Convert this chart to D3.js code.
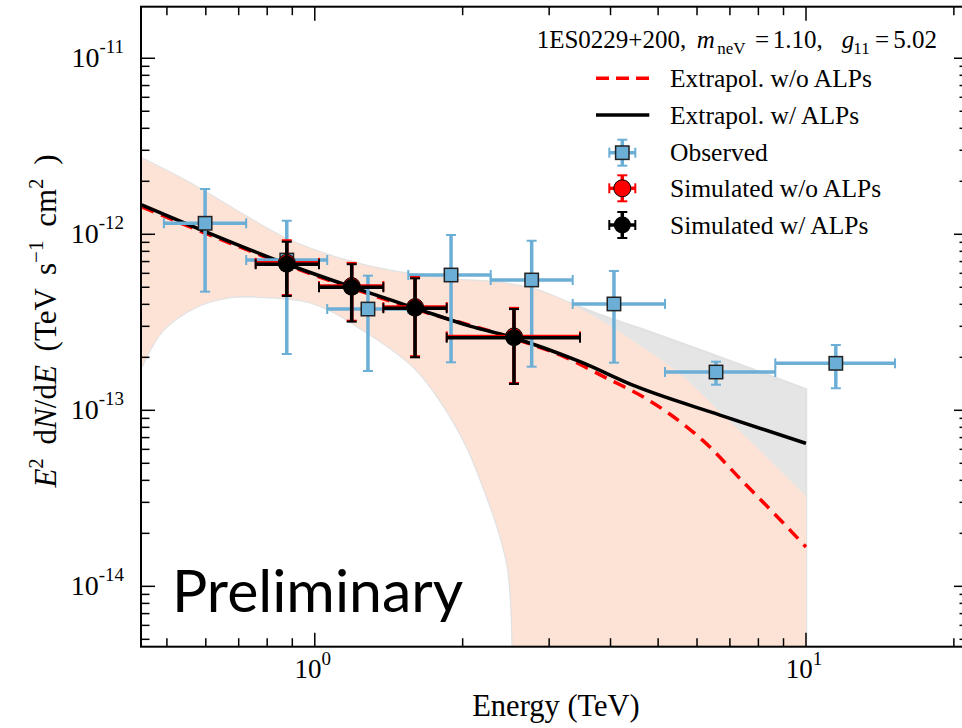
<!DOCTYPE html>
<html><head><meta charset="utf-8">
<script src="https://cdn.jsdelivr.net/npm/d3@7"></script>
<style>
body{margin:0;background:#fff}
svg{display:block}
text{font-family:"Liberation Serif","Times New Roman",serif;fill:#000}
</style>
</head><body>
<svg id="c" width="962" height="728"></svg>
<script>
// ---------------- data ----------------
// Observed spectrum (TeV, TeV s^-1 cm^-2)
const obsE    = [0.598, 0.877, 1.283, 1.894, 2.764, 4.065, 6.559, 11.50];
const obsELo  = [0.493, 0.725, 1.060, 1.550, 2.281, 3.350, 5.164, 8.66];
const obsEHi  = [0.725, 1.060, 1.550, 2.281, 3.350, 5.164, 8.66, 15.18];
const obsF    = [1.155e-12, 7.14e-13, 3.76e-13, 5.87e-13, 5.50e-13, 4.02e-13, 1.650e-13, 1.849e-13];
const obsFLo  = [4.72e-13, 2.089e-13, 1.672e-13, 1.874e-13, 1.769e-13, 1.865e-13, 1.398e-13, 1.334e-13];
const obsFHi  = [1.808e-12, 1.195e-12, 5.82e-13, 9.91e-13, 9.20e-13, 6.19e-13, 1.889e-13, 2.35e-13];

// Simulated points
const simE    = [0.877, 1.189, 1.600, 2.544];
const simELo  = [0.758, 1.020, 1.379, 1.856];
const simEHi  = [1.020, 1.379, 1.856, 3.467];
const simNoF   = [6.88e-13, 5.08e-13, 3.86e-13, 2.63e-13];
const simNoFLo = [4.52e-13, 3.23e-13, 2.03e-13, 1.43e-13];
const simNoFHi = [9.25e-13, 6.88e-13, 5.72e-13, 3.82e-13];
const simAlpF   = [6.76e-13, 5.00e-13, 3.80e-13, 2.585e-13];
const simAlpFLo = [4.46e-13, 3.19e-13, 2.00e-13, 1.411e-13];
const simAlpFHi = [9.08e-13, 6.76e-13, 5.62e-13, 3.76e-13];

// Extrapolated model curves
const alpE = [0.4442, 0.8766, 1.189, 1.600, 2.070, 2.536, 3.467, 4.522, 6.682, 10.0];
const alpF = [1.468e-12, 6.78e-13, 5.02e-13, 3.81e-13, 3.01e-13, 2.585e-13, 1.889e-13, 1.361e-13, 9.40e-14, 6.49e-14];
const noAlpE = [0.4442, 0.8766, 1.600, 2.536, 3.157, 3.990, 4.522, 5.286, 6.180, 7.455, 8.990, 10.0];
const noAlpF = [1.43e-12, 6.69e-13, 3.76e-13, 2.56e-13, 2.062e-13, 1.49e-13, 1.25e-13, 9.5e-14, 6.7e-14, 3.91e-14, 2.29e-14, 1.672e-14];

// Confidence bands
const noAlpBandUpE = [0.4442, 0.575, 0.705, 0.8766, 1.049, 1.254, 1.885, 2.420, 2.830, 3.308, 3.867, 4.522, 5.627, 6.610, 8.058, 10.0];
const noAlpBandUpF = [2.70e-12, 1.857e-12, 1.321e-12, 9.40e-13, 7.73e-13, 6.69e-13, 5.55e-13, 5.27e-13, 4.83e-13, 4.06e-13, 3.19e-13, 2.40e-13, 1.552e-13, 1.008e-13, 5.91e-14, 3.26e-14];
const alpBandUpE = [0.4442, 0.575, 0.705, 0.8766, 1.049, 1.254, 1.885, 2.420, 2.830, 3.308, 3.867, 4.522, 6.682, 10.0];
const alpBandUpF = [2.70e-12, 1.857e-12, 1.321e-12, 9.40e-13, 7.73e-13, 6.69e-13, 5.55e-13, 5.27e-13, 4.83e-13, 4.06e-13, 3.43e-13, 2.955e-13, 2.00e-13, 1.316e-13];
const bandLoE = [0.4442, 0.4915, 0.575, 0.672, 0.7734, 0.993, 1.255, 1.587, 1.798, 2.032, 2.203, 2.383, 2.477, 2.520, 2.532];
const bandLoF = [1.769e-13, 2.86e-13, 3.88e-13, 4.40e-13, 4.42e-13, 4.06e-13, 2.86e-13, 1.769e-13, 1.144e-13, 6.35e-14, 3.68e-14, 1.957e-14, 1.239e-14, 6.43e-15, 1e-15];

// Axis ticks
const xMajor = [1, 10];
const xMajorExp = ["0", "1"];
const yMajor = [1e-11, 1e-12, 1e-13, 1e-14];
const yMajorExp = ["-11", "-12", "-13", "-14"];

// Legend
const legendLabels = ["Extrapol. w/o ALPs", "Extrapol. w/ ALPs", "Observed", "Simulated w/o ALPs", "Simulated w/ ALPs"];

// ---------------- layout ----------------
const W = 962, H = 728;
const P = {left: 141, right: 968, top: 6.7, bottom: 646.7};
const x = d3.scaleLog().domain([0.4428, 21.37]).range([P.left, P.right]);
const y = d3.scaleLog().domain([4.54e-15, 1.963e-11]).range([P.bottom, P.top]);

const BLUE = "#6baed6", PINK = "#fde3d6", GRAY = "#e5e5e5";

const svg = d3.select("#c");
svg.append("rect").attr("width", W).attr("height", H).attr("fill", "#fff");
svg.append("defs").append("clipPath").attr("id", "clip")
  .append("rect").attr("x", P.left).attr("y", P.top)
  .attr("width", P.right - P.left).attr("height", P.bottom - P.top);

const g = svg.append("g").attr("clip-path", "url(#clip)");

const lnB = d3.line().x(d => x(d[0])).y(d => y(d[1])).curve(d3.curveCatmullRom.alpha(0.5));
const lnM = d3.line().x(d => x(d[0])).y(d => y(d[1])).curve(d3.curveMonotoneX);
const zip = (a, b) => a.map((v, i) => [v, b[i]]);

function bandPath(upE, upF, loE, loF) {
  const up = zip(upE, upF);
  const lo = zip(loE, loF).reverse();
  let p = lnM(up);
  p += `L${x(upE[upE.length - 1])},${H + 60}L${x(loE[loE.length - 1])},${H + 60}`;
  p += lnB(lo).replace(/^M/, "L");
  return p + "Z";
}

// bands
g.append("path").attr("d", bandPath(alpBandUpE, alpBandUpF, bandLoE, bandLoF))
  .attr("fill", GRAY).attr("stroke", "#e2e2e2").attr("stroke-width", 2.5);
g.append("path").attr("d", bandPath(noAlpBandUpE, noAlpBandUpF, bandLoE, bandLoF))
  .attr("fill", PINK).attr("stroke", "none");

// curves
g.append("path").attr("d", lnM(zip(noAlpE, noAlpF))).attr("fill", "none")
  .attr("stroke", "#ff0000").attr("stroke-width", 3.5).attr("stroke-dasharray", "13,8");
g.append("path").attr("d", lnM(zip(alpE, alpF))).attr("fill", "none")
  .attr("stroke", "#000").attr("stroke-width", 3.5);

// error-bar helper
function errPoint(layer, cx, cy, xl, xh, yl, yh, color, cap, marker) {
  const s = layer.append("g");
  s.append("line").attr("x1", xl).attr("x2", xh).attr("y1", cy).attr("y2", cy)
    .attr("stroke", color).attr("stroke-width", 3.5);
  s.append("line").attr("x1", cx).attr("x2", cx).attr("y1", yl).attr("y2", yh)
    .attr("stroke", color).attr("stroke-width", 3.5);
  [[xl, cy, "v"], [xh, cy, "v"], [cx, yl, "h"], [cx, yh, "h"]].forEach(([px, py, o]) => {
    if (o === "v") s.append("line").attr("x1", px).attr("x2", px).attr("y1", py - cap).attr("y2", py + cap)
      .attr("stroke", color).attr("stroke-width", 2);
    else s.append("line").attr("x1", px - cap).attr("x2", px + cap).attr("y1", py).attr("y2", py)
      .attr("stroke", color).attr("stroke-width", 2);
  });
  marker(s, cx, cy);
}
const square = (s, cx, cy) => s.append("rect").attr("x", cx - 6.7).attr("y", cy - 6.7)
  .attr("width", 13.4).attr("height", 13.4).attr("fill", BLUE).attr("stroke", "#222").attr("stroke-width", 1.5);
const redDot = (s, cx, cy) => s.append("circle").attr("cx", cx).attr("cy", cy).attr("r", 8.5)
  .attr("fill", "#ff0000").attr("stroke", "#000").attr("stroke-width", 1);
const blackDot = (s, cx, cy) => s.append("circle").attr("cx", cx).attr("cy", cy).attr("r", 8.5)
  .attr("fill", "#000");

obsE.forEach((e, i) => errPoint(g, x(e), y(obsF[i]), x(obsELo[i]), x(obsEHi[i]),
  y(obsFLo[i]), y(obsFHi[i]), BLUE, 5, square));
simE.forEach((e, i) => errPoint(g, x(e), y(simNoF[i]), x(simELo[i]), x(simEHi[i]),
  y(simNoFLo[i]), y(simNoFHi[i]), "#ff0000", 5, redDot));
simE.forEach((e, i) => errPoint(g, x(e), y(simAlpF[i]), x(simELo[i]), x(simEHi[i]),
  y(simAlpFLo[i]), y(simAlpFHi[i]), "#000", 5, blackDot));

// ---------------- axes / frame ----------------
const ax = svg.append("g");
const xMinor = [], yMinor = [];
for (let d = -1; d <= 1; d++) for (let m = 2; m <= 9; m++) {
  const v = m * Math.pow(10, d);
  if (v > x.domain()[0] && v < x.domain()[1]) xMinor.push(v);
}
for (let d = -15; d <= -11; d++) for (let m = 2; m <= 9; m++) {
  const v = m * Math.pow(10, d);
  if (v > y.domain()[0] && v < y.domain()[1]) yMinor.push(v);
}
const tk = (x1, y1, x2, y2) => ax.append("line").attr("x1", x1).attr("y1", y1).attr("x2", x2).attr("y2", y2)
  .attr("stroke", "#000").attr("stroke-width", 1.5);
xMinor.forEach(v => { tk(x(v), P.bottom, x(v), P.bottom - 8.5); tk(x(v), P.top, x(v), P.top + 8.5); });
xMajor.forEach(v => { tk(x(v), P.bottom, x(v), P.bottom - 14); tk(x(v), P.top, x(v), P.top + 14); });
yMinor.forEach(v => { tk(P.left, y(v), P.left + 8.5, y(v)); tk(P.right, y(v), P.right - 8.5, y(v)); });
yMajor.forEach(v => { tk(P.left, y(v), P.left + 14, y(v)); tk(P.right, y(v), P.right - 14, y(v)); });
ax.append("rect").attr("x", P.left).attr("y", P.top).attr("width", P.right - P.left)
  .attr("height", P.bottom - P.top).attr("fill", "none").attr("stroke", "#000").attr("stroke-width", 2);

// tick labels
yMajor.forEach((v, i) => {
  const t = ax.append("text").attr("x", 124).attr("y", y(v) + 8.4).attr("text-anchor", "end");
  t.append("tspan").attr("font-size", 28).text("10");
  t.append("tspan").attr("font-size", 19).attr("dy", -13.4).text(yMajorExp[i]);
});
xMajor.forEach((v, i) => {
  const t = ax.append("text").attr("x", x(v) - 2).attr("y", 678.3).attr("text-anchor", "middle");
  t.append("tspan").attr("font-size", 27).text("10");
  t.append("tspan").attr("font-size", 19).attr("dy", -13.3).text(xMajorExp[i]);
});

// axis titles
ax.append("text").attr("x", 556).attr("y", 716).attr("text-anchor", "middle")
  .attr("font-size", 30.5).text("Energy (TeV)");

const yl = ax.append("text").attr("transform", "translate(56,321) rotate(-90)")
  .attr("text-anchor", "middle").attr("font-size", 31).attr("word-spacing", 6);
yl.append("tspan").attr("font-style", "italic").text("E");
yl.append("tspan").attr("font-size", 21).attr("dy", -13).text("2");
yl.append("tspan").attr("dy", 13).text(" d");
yl.append("tspan").attr("font-style", "italic").text("N");
yl.append("tspan").text("/d");
yl.append("tspan").attr("font-style", "italic").text("E");
yl.append("tspan").text(" (TeV s");
yl.append("tspan").attr("font-size", 21).attr("dy", -13).text("\u22121");
yl.append("tspan").attr("dy", 13).text(" cm");
yl.append("tspan").attr("font-size", 21).attr("dy", -13).text("2");
yl.append("tspan").attr("dy", 13).text(" )");

// Preliminary
ax.append("text").attr("x", 172).attr("y", 611.7).attr("font-size", 59)
  .style("font-family", "Lato, 'Open Sans', sans-serif").text("Preliminary");

// ---------------- legend ----------------
const lg = svg.append("g");
const tt = lg.append("text").attr("y", 48.3).attr("font-size", 25);
tt.append("tspan").attr("x", 536.7).text("1ES0229+200,");
tt.append("tspan").attr("x", 696.7).attr("font-style", "italic").text("m");
tt.append("tspan").attr("x", 717.3).attr("font-size", 17).attr("dy", 6).text("neV");
tt.append("tspan").attr("x", 755).attr("dy", -6).text("=");
tt.append("tspan").attr("x", 772.7).text("1.10,");
tt.append("tspan").attr("x", 841.7).attr("font-style", "italic").text("g");
tt.append("tspan").attr("x", 853.3).attr("font-size", 17).attr("dy", 6).text("11");
tt.append("tspan").attr("x", 875).attr("dy", -6).text("=");
tt.append("tspan").attr("x", 893.3).text("5.02");

const rowY = [78.3, 115, 152.7, 188.3, 225];
const mx = 622.3, tx = 670;
lg.append("line").attr("x1", 596).attr("x2", 649.3).attr("y1", rowY[0]).attr("y2", rowY[0])
  .attr("stroke", "#ff0000").attr("stroke-width", 3.5).attr("stroke-dasharray", "13,7");
lg.append("line").attr("x1", 596).attr("x2", 649.3).attr("y1", rowY[1]).attr("y2", rowY[1])
  .attr("stroke", "#000").attr("stroke-width", 3.5);
errPoint(lg, mx, rowY[2], mx - 13, mx + 13, rowY[2] + 13, rowY[2] - 13, BLUE, 5, square);
errPoint(lg, mx, rowY[3], mx - 13, mx + 13, rowY[3] + 13, rowY[3] - 13, "#ff0000", 5, redDot);
errPoint(lg, mx, rowY[4], mx - 13, mx + 13, rowY[4] + 13, rowY[4] - 13, "#000", 5, blackDot);
legendLabels.forEach((l, i) => lg.append("text").attr("x", tx).attr("y", rowY[i] + 8.5)
  .attr("font-size", 25.5).text(l));
</script>
</body></html>
